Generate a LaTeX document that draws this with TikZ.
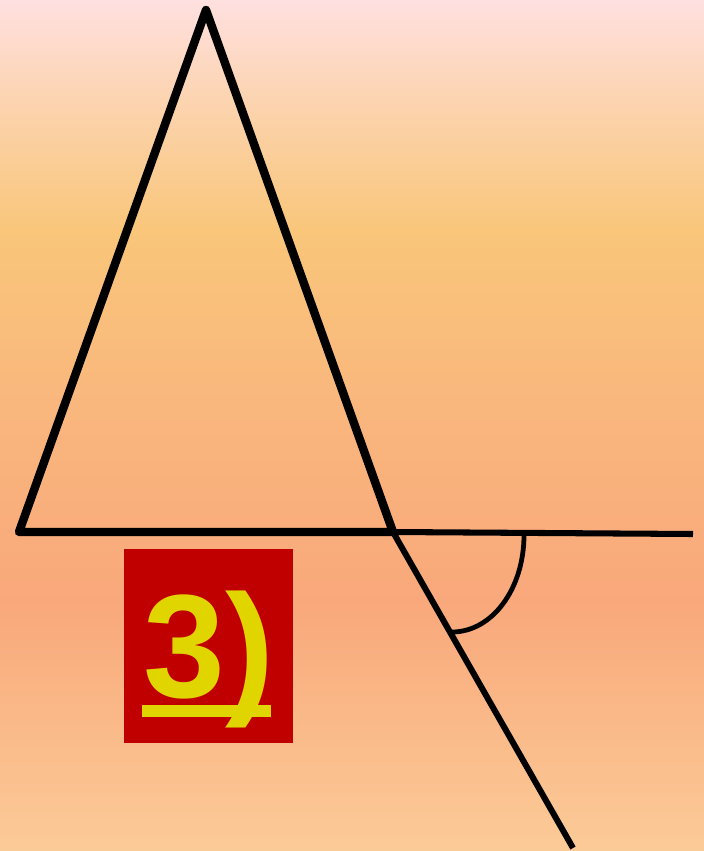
\documentclass[tikz,border=0pt]{standalone}
\usepackage{fontspec}
\setmainfont{Liberation Sans}
\definecolor{bgA}{HTML}{FFE0E0}
\definecolor{bgB}{HTML}{FCD4B0}
\definecolor{bgC}{HTML}{F9C67A}
\definecolor{bgD}{HTML}{F9B77D}
\definecolor{bgE}{HTML}{F9A87B}
\definecolor{bgF}{HTML}{FBCB97}
\definecolor{boxred}{HTML}{C00000}
\definecolor{numyellow}{HTML}{E1D500}
\begin{document}
\begin{tikzpicture}[x=0.025cm, y=-0.025cm, line join=round,
	triside/.style={line width=6pt},
	extline/.style={line width=4.3pt},
	labelbox/.style={fill=boxred, minimum width=4.225cm, minimum height=4.85cm, inner sep=0pt}]
	\useasboundingbox (0,0) rectangle (704,851);
	% background
	\shade[top color=bgA, bottom color=bgB] (0,0) rectangle (704,100.5);
	\shade[top color=bgB, bottom color=bgC] (0,100) rectangle (704,230.5);
	\shade[top color=bgC, bottom color=bgD] (0,230) rectangle (704,400.5);
	\shade[top color=bgD, bottom color=bgE] (0,400) rectangle (704,600.5);
	\shade[top color=bgE, bottom color=bgF] (0,600) rectangle (704,851);
	\coordinate (A) at (206, 10);
	\coordinate (B) at (19, 532);
	\coordinate (C) at (393, 532);
	\coordinate (D) at (693, 534);
	\coordinate (E) at (573, 848);
	\coordinate (P) at (524, 535);
	\coordinate (Q) at (452, 632);
	\draw[extline] (C) -- (D) (C) -- (E);
	\draw[triside] (B) -- (A) -- (C) -- cycle;
	\draw[line width=3.4pt] (P) .. controls (524, 589) and (492, 632) .. (Q);
	% label
	\node[labelbox] (box) at (208.5, 646) {};
	\node[anchor=base west, inner sep=0pt, text=numyellow, font=\bfseries\fontsize{104.6}{120}\selectfont] (num) at (143, 697) {3)};
	\fill[numyellow] (142, 705) rectangle (271, 717);
\end{tikzpicture}
\end{document}
